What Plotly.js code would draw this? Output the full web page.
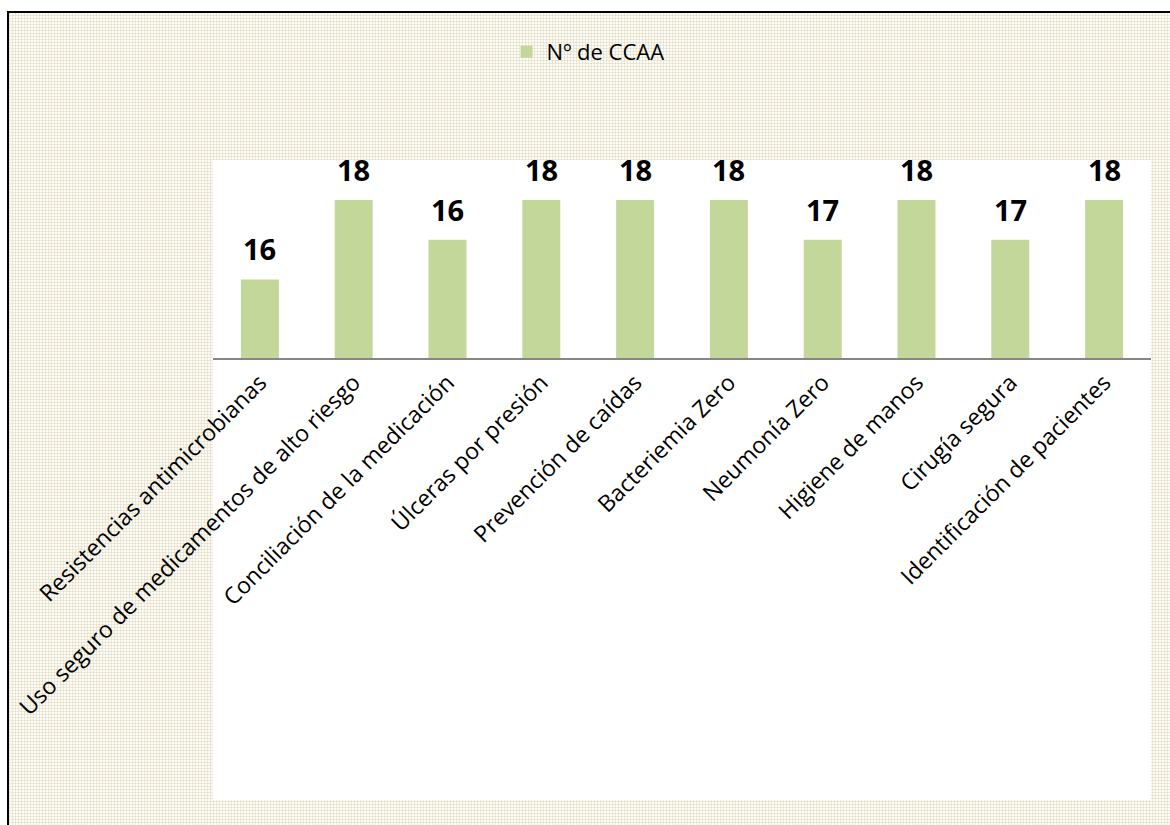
<!DOCTYPE html>
<html>
<head>
<meta charset="utf-8">
<script src="https://cdn.plot.ly/plotly-3.0.1.min.js"></script>
<style>
  html, body { margin: 0; padding: 0; background: #ffffff; }
  #wrap {
    position: relative; width: 1170px; height: 825px; overflow: hidden;
    background-color: #fcfbf6;
    background-image:
      linear-gradient(90deg, rgba(205,198,160,0.32) 1px, transparent 1px),
      linear-gradient(rgba(205,198,160,0.32) 1px, transparent 1px);
    background-size: 3px 3px;
  }
  #top-strip { position: absolute; left: 0; top: 0; width: 1170px; height: 11px; background: #ffffff; }
  #left-strip { position: absolute; left: 0; top: 0; width: 7px; height: 825px; background: #ffffff; }
  #frame {
    position: absolute; left: 7px; top: 11px; width: 1200px; height: 900px;
    border-left: 2px solid #000; border-top: 2px solid #000; box-sizing: border-box;
  }
  #chart { position: absolute; left: 0; top: 0; width: 1170px; height: 825px; }
</style>
</head>
<body>
<div id="wrap">
  <div id="top-strip"></div>
  <div id="left-strip"></div>
  <div id="frame"></div>
  <div id="chart"></div>
</div>
<script>
// Data
const categories = [
  "Resistencias antimicrobianas",
  "Uso seguro de medicamentos de alto riesgo",
  "Conciliación de la medicación",
  "Úlceras por presión",
  "Prevención de caídas",
  "Bacteriemia Zero",
  "Neumonía Zero",
  "Higiene de manos",
  "Cirugía segura",
  "Identificación de pacientes"
];
const values = [16, 18, 17, 18, 18, 18, 17, 18, 17, 18];
const valueLabels = ["16", "18", "16", "18", "18", "18", "17", "18", "17", "18"];
const seriesName = "Nº de CCAA";
const axisCross = 14;

const barTrace = {
  type: "bar",
  name: seriesName,
  x: categories,
  y: values.map(v => v - axisCross),
  base: axisCross,
  width: 0.405,
  marker: { color: "#c4d79b" },
  hoverinfo: "skip",
  showlegend: true
};

const annotations = categories.map((c, i) => ({
  x: c, y: values[i], xref: "x", yref: "y",
  text: valueLabels[i],
  showarrow: false, yanchor: "bottom", yshift: 9,
  font: { family: "Open Sans", size: 29, color: "#000000", weight: "bold" }
}));

const layout = {
  width: 1170, height: 825,
  margin: { l: 213, r: 19, t: 160, b: 25, pad: 0 },
  paper_bgcolor: "rgba(0,0,0,0)",
  plot_bgcolor: "#ffffff",
  showlegend: true,
  legend: {
    orientation: "h", x: 0.313, xanchor: "left", y: 1.169, yanchor: "middle",
    font: { family: "Open Sans", size: 22, color: "#000000" },
    bgcolor: "rgba(0,0,0,0)"
  },
  xaxis: {
    type: "category",
    anchor: "free", position: 441 / 640,
    showline: true, linecolor: "#868686", linewidth: 2,
    ticks: "", showgrid: false,
    tickangle: -45,
    tickfont: { family: "Open Sans", size: 23, color: "#000000" },
    automargin: false
  },
  yaxis: {
    range: [2.906, 19.006],
    showgrid: false, zeroline: false, showline: false,
    showticklabels: false, ticks: ""
  },
  annotations: annotations,
  font: { family: "Open Sans" }
};

Plotly.newPlot("chart", [barTrace], layout, { displayModeBar: false, staticPlot: true });
</script>
</body>
</html>
